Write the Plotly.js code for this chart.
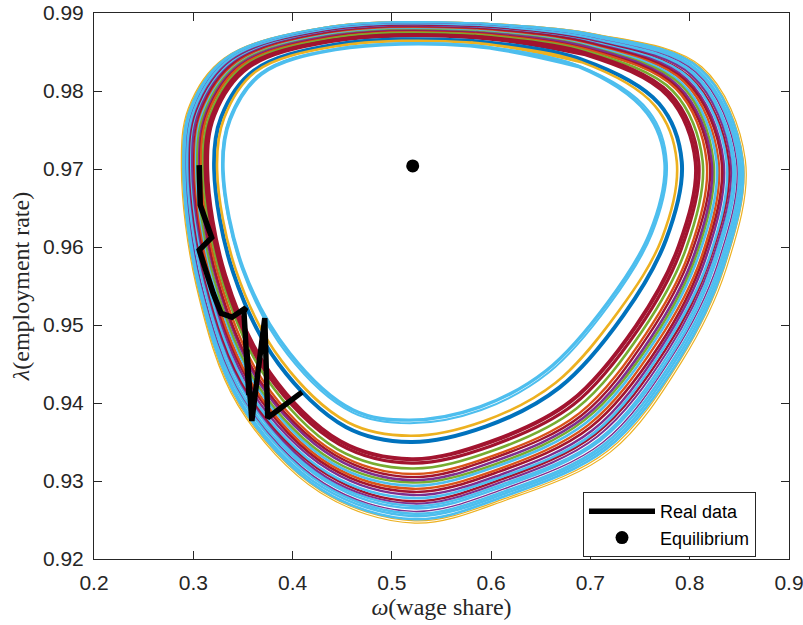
<!DOCTYPE html>
<html>
<head>
<meta charset="utf-8">
<script src="https://cdn.plot.ly/plotly-3.0.1.min.js"></script>
<style>
  html, body { margin: 0; padding: 0; background: #ffffff; }
  #chart { width: 803px; height: 625px; }
</style>
</head>
<body>
<div id="chart"></div>
<script>
// Simulated (wage share, employment rate) cycles, innermost first.
// Each orbit is sampled at 16 points going clockwise from the top.
const orbit01_w = [0.579, 0.689, 0.757, 0.775, 0.760, 0.717, 0.656, 0.589, 0.518, 0.461, 0.397, 0.350, 0.330, 0.337, 0.369, 0.443];
const orbit01_l = [0.9858, 0.9831, 0.9772, 0.9708, 0.9618, 0.9528, 0.9442, 0.9395, 0.9378, 0.9391, 0.9464, 0.9573, 0.9699, 0.9763, 0.9822, 0.9853];

const orbit02_w = [0.579, 0.689, 0.759, 0.777, 0.762, 0.719, 0.658, 0.590, 0.518, 0.460, 0.395, 0.349, 0.329, 0.336, 0.368, 0.443];
const orbit02_l = [0.9859, 0.9832, 0.9774, 0.9708, 0.9617, 0.9526, 0.9439, 0.9391, 0.9374, 0.9388, 0.9462, 0.9572, 0.9699, 0.9764, 0.9823, 0.9854];

const orbit03_w = [0.580, 0.691, 0.765, 0.787, 0.772, 0.728, 0.665, 0.593, 0.519, 0.456, 0.389, 0.343, 0.324, 0.331, 0.363, 0.442];
const orbit03_l = [0.9862, 0.9837, 0.9781, 0.9709, 0.9611, 0.9517, 0.9426, 0.9377, 0.9358, 0.9375, 0.9454, 0.9570, 0.9699, 0.9765, 0.9825, 0.9857];

const orbit04_w = [0.581, 0.692, 0.769, 0.792, 0.776, 0.733, 0.669, 0.595, 0.519, 0.454, 0.386, 0.340, 0.321, 0.328, 0.361, 0.441];
const orbit04_l = [0.9864, 0.9840, 0.9784, 0.9709, 0.9609, 0.9512, 0.9420, 0.9370, 0.9350, 0.9369, 0.9450, 0.9568, 0.9700, 0.9766, 0.9826, 0.9859];

const orbit05_w = [0.583, 0.695, 0.778, 0.806, 0.789, 0.746, 0.680, 0.599, 0.520, 0.448, 0.377, 0.332, 0.314, 0.321, 0.355, 0.439];
const orbit05_l = [0.9869, 0.9847, 0.9794, 0.9709, 0.9601, 0.9499, 0.9402, 0.9350, 0.9328, 0.9351, 0.9439, 0.9564, 0.9700, 0.9769, 0.9830, 0.9864];

const orbit06_w = [0.583, 0.695, 0.780, 0.809, 0.792, 0.749, 0.683, 0.600, 0.520, 0.447, 0.375, 0.330, 0.312, 0.319, 0.353, 0.439];
const orbit06_l = [0.9870, 0.9849, 0.9797, 0.9710, 0.9599, 0.9496, 0.9398, 0.9345, 0.9323, 0.9347, 0.9436, 0.9563, 0.9700, 0.9769, 0.9831, 0.9865];

const orbit07_w = [0.584, 0.696, 0.783, 0.813, 0.796, 0.752, 0.686, 0.602, 0.520, 0.445, 0.373, 0.328, 0.310, 0.317, 0.351, 0.438];
const orbit07_l = [0.9872, 0.9851, 0.9800, 0.9710, 0.9597, 0.9492, 0.9393, 0.9339, 0.9316, 0.9341, 0.9433, 0.9562, 0.9700, 0.9770, 0.9832, 0.9867];

const orbit08_w = [0.584, 0.697, 0.786, 0.817, 0.800, 0.756, 0.689, 0.603, 0.521, 0.444, 0.370, 0.326, 0.308, 0.315, 0.349, 0.438];
const orbit08_l = [0.9873, 0.9853, 0.9803, 0.9710, 0.9595, 0.9489, 0.9387, 0.9333, 0.9309, 0.9336, 0.9429, 0.9561, 0.9700, 0.9771, 0.9833, 0.9868];

const orbit09_w = [0.584, 0.697, 0.787, 0.820, 0.802, 0.758, 0.691, 0.604, 0.521, 0.443, 0.368, 0.324, 0.307, 0.314, 0.348, 0.438];
const orbit09_l = [0.9874, 0.9854, 0.9805, 0.9710, 0.9593, 0.9486, 0.9384, 0.9330, 0.9305, 0.9333, 0.9427, 0.9560, 0.9700, 0.9771, 0.9833, 0.9869];

const orbit10_w = [0.585, 0.698, 0.789, 0.822, 0.805, 0.761, 0.693, 0.605, 0.521, 0.442, 0.367, 0.323, 0.306, 0.313, 0.347, 0.437];
const orbit10_l = [0.9875, 0.9856, 0.9806, 0.9710, 0.9592, 0.9484, 0.9381, 0.9326, 0.9301, 0.9330, 0.9425, 0.9560, 0.9701, 0.9772, 0.9834, 0.9870];

const orbit11_w = [0.585, 0.698, 0.791, 0.824, 0.807, 0.763, 0.694, 0.605, 0.521, 0.441, 0.365, 0.321, 0.304, 0.311, 0.346, 0.437];
const orbit11_l = [0.9876, 0.9857, 0.9808, 0.9710, 0.9591, 0.9482, 0.9378, 0.9322, 0.9298, 0.9326, 0.9423, 0.9559, 0.9701, 0.9772, 0.9835, 0.9871];

const orbit12_w = [0.585, 0.699, 0.792, 0.827, 0.809, 0.765, 0.696, 0.606, 0.521, 0.440, 0.364, 0.320, 0.303, 0.310, 0.345, 0.437];
const orbit12_l = [0.9877, 0.9858, 0.9810, 0.9710, 0.9589, 0.9480, 0.9375, 0.9319, 0.9294, 0.9323, 0.9421, 0.9558, 0.9701, 0.9773, 0.9835, 0.9872];

const orbit13_w = [0.586, 0.699, 0.794, 0.829, 0.812, 0.767, 0.698, 0.607, 0.521, 0.439, 0.362, 0.318, 0.302, 0.309, 0.344, 0.436];
const orbit13_l = [0.9878, 0.9859, 0.9812, 0.9711, 0.9588, 0.9477, 0.9372, 0.9315, 0.9290, 0.9320, 0.9419, 0.9558, 0.9701, 0.9773, 0.9836, 0.9873];

const orbit14_w = [0.586, 0.700, 0.796, 0.832, 0.814, 0.770, 0.700, 0.608, 0.522, 0.438, 0.361, 0.317, 0.301, 0.308, 0.342, 0.436];
const orbit14_l = [0.9879, 0.9861, 0.9813, 0.9711, 0.9587, 0.9475, 0.9369, 0.9312, 0.9286, 0.9317, 0.9417, 0.9557, 0.9701, 0.9774, 0.9836, 0.9874];

const orbit15_w = [0.586, 0.700, 0.797, 0.834, 0.816, 0.772, 0.702, 0.609, 0.522, 0.437, 0.359, 0.316, 0.299, 0.306, 0.341, 0.436];
const orbit15_l = [0.9880, 0.9862, 0.9815, 0.9711, 0.9585, 0.9473, 0.9365, 0.9308, 0.9282, 0.9314, 0.9415, 0.9556, 0.9701, 0.9774, 0.9837, 0.9875];

const orbit16_w = [0.587, 0.700, 0.799, 0.837, 0.819, 0.774, 0.704, 0.610, 0.522, 0.436, 0.357, 0.314, 0.298, 0.305, 0.340, 0.435];
const orbit16_l = [0.9880, 0.9863, 0.9817, 0.9711, 0.9584, 0.9471, 0.9362, 0.9305, 0.9278, 0.9310, 0.9413, 0.9556, 0.9701, 0.9774, 0.9838, 0.9875];

const orbit17_w = [0.587, 0.701, 0.800, 0.839, 0.820, 0.776, 0.705, 0.610, 0.522, 0.435, 0.356, 0.313, 0.297, 0.304, 0.339, 0.435];
const orbit17_l = [0.9881, 0.9864, 0.9818, 0.9711, 0.9583, 0.9469, 0.9360, 0.9302, 0.9274, 0.9308, 0.9411, 0.9555, 0.9701, 0.9775, 0.9838, 0.9876];

const orbit18_w = [0.587, 0.701, 0.802, 0.841, 0.822, 0.778, 0.707, 0.611, 0.522, 0.434, 0.355, 0.312, 0.296, 0.303, 0.338, 0.435];
const orbit18_l = [0.9882, 0.9865, 0.9820, 0.9711, 0.9582, 0.9467, 0.9357, 0.9299, 0.9271, 0.9305, 0.9410, 0.9554, 0.9701, 0.9775, 0.9839, 0.9877];

const orbit19_w = [0.587, 0.702, 0.803, 0.843, 0.824, 0.780, 0.709, 0.612, 0.522, 0.433, 0.354, 0.311, 0.295, 0.302, 0.337, 0.435];
const orbit19_l = [0.9883, 0.9866, 0.9821, 0.9711, 0.9581, 0.9465, 0.9354, 0.9296, 0.9268, 0.9303, 0.9408, 0.9554, 0.9701, 0.9776, 0.9839, 0.9878];

const orbit20_w = [0.588, 0.702, 0.804, 0.845, 0.826, 0.782, 0.710, 0.612, 0.522, 0.433, 0.352, 0.310, 0.294, 0.301, 0.336, 0.434];
const orbit20_l = [0.9883, 0.9867, 0.9823, 0.9711, 0.9580, 0.9463, 0.9352, 0.9293, 0.9265, 0.9300, 0.9406, 0.9553, 0.9701, 0.9776, 0.9840, 0.9878];

const orbit21_w = [0.588, 0.702, 0.806, 0.847, 0.828, 0.783, 0.712, 0.613, 0.522, 0.432, 0.351, 0.308, 0.293, 0.300, 0.335, 0.434];
const orbit21_l = [0.9884, 0.9868, 0.9824, 0.9711, 0.9578, 0.9461, 0.9349, 0.9290, 0.9261, 0.9297, 0.9405, 0.9553, 0.9701, 0.9776, 0.9840, 0.9879];

const orbit22_w = [0.588, 0.703, 0.807, 0.849, 0.830, 0.785, 0.713, 0.614, 0.523, 0.431, 0.350, 0.307, 0.292, 0.299, 0.334, 0.434];
const orbit22_l = [0.9885, 0.9870, 0.9826, 0.9712, 0.9577, 0.9459, 0.9346, 0.9287, 0.9258, 0.9295, 0.9403, 0.9552, 0.9701, 0.9777, 0.9841, 0.9880];

const orbit23_w = [0.588, 0.703, 0.808, 0.851, 0.832, 0.787, 0.715, 0.614, 0.523, 0.430, 0.348, 0.306, 0.291, 0.298, 0.333, 0.434];
const orbit23_l = [0.9886, 0.9871, 0.9827, 0.9712, 0.9576, 0.9457, 0.9344, 0.9284, 0.9255, 0.9292, 0.9401, 0.9552, 0.9701, 0.9777, 0.9841, 0.9881];

const orbit24_w = [0.589, 0.703, 0.810, 0.853, 0.834, 0.789, 0.716, 0.615, 0.523, 0.429, 0.347, 0.305, 0.290, 0.297, 0.333, 0.433];
const orbit24_l = [0.9886, 0.9872, 0.9829, 0.9712, 0.9575, 0.9455, 0.9341, 0.9281, 0.9251, 0.9289, 0.9400, 0.9551, 0.9702, 0.9777, 0.9842, 0.9881];

const orbit25_w = [0.589, 0.704, 0.811, 0.854, 0.835, 0.790, 0.718, 0.615, 0.523, 0.429, 0.346, 0.304, 0.289, 0.296, 0.332, 0.433];
const orbit25_l = [0.9887, 0.9873, 0.9830, 0.9712, 0.9574, 0.9454, 0.9339, 0.9278, 0.9249, 0.9287, 0.9398, 0.9550, 0.9702, 0.9778, 0.9842, 0.9882];

const orbit26_w = [0.589, 0.705, 0.812, 0.856, 0.837, 0.792, 0.720, 0.616, 0.523, 0.428, 0.345, 0.303, 0.288, 0.295, 0.331, 0.433];
const orbit26_l = [0.9887, 0.9873, 0.9831, 0.9712, 0.9573, 0.9453, 0.9337, 0.9276, 0.9246, 0.9285, 0.9397, 0.9550, 0.9701, 0.9778, 0.9842, 0.9882];

// Observed path of wage share and employment rate
const realWage = [0.306, 0.307, 0.3185, 0.306, 0.320, 0.328, 0.339, 0.353, 0.351, 0.356, 0.354, 0.359, 0.372, 0.375, 0.4095];
const realEmpl = [0.9705, 0.9654, 0.9612, 0.9596, 0.9541, 0.9515, 0.9510, 0.9522, 0.9517, 0.9410, 0.9468, 0.9377, 0.9509, 0.9381, 0.9414];

// Steady state
const eqWage = [0.521];
const eqEmpl = [0.9704];

const tickX = [0.2, 0.3, 0.4, 0.5, 0.6, 0.7, 0.8, 0.9];
const tickY = [0.92, 0.93, 0.94, 0.95, 0.96, 0.97, 0.98, 0.99];

const C = {
  blue: '#0072BD', orange: '#D95319', yellow: '#EDB120', purple: '#7E2F8E',
  green: '#77AC30', cyan: '#4DBEEE', red: '#A2142F'
};

// outermost drawn first so the heavier inner cycles sit on top
const orbits = [
  [orbit26_w, orbit26_l, C.yellow, 1.2],
  [orbit25_w, orbit25_l, C.yellow, 1.2],
  [orbit24_w, orbit24_l, C.cyan, 2.6],
  [orbit23_w, orbit23_l, C.cyan, 2.6],
  [orbit22_w, orbit22_l, C.cyan, 2.6],
  [orbit21_w, orbit21_l, C.purple, 1.4],
  [orbit20_w, orbit20_l, C.cyan, 2.6],
  [orbit19_w, orbit19_l, C.cyan, 2.4],
  [orbit18_w, orbit18_l, C.purple, 2],
  [orbit17_w, orbit17_l, C.red, 2.4],
  [orbit16_w, orbit16_l, C.cyan, 2.6],
  [orbit15_w, orbit15_l, C.purple, 2.4],
  [orbit14_w, orbit14_l, C.red, 2.6],
  [orbit13_w, orbit13_l, C.orange, 2.4],
  [orbit12_w, orbit12_l, C.cyan, 2.6],
  [orbit11_w, orbit11_l, C.green, 2.4],
  [orbit10_w, orbit10_l, C.purple, 2.6],
  [orbit09_w, orbit09_l, C.red, 2.4],
  [orbit08_w, orbit08_l, C.orange, 2.4],
  [orbit07_w, orbit07_l, C.green, 2.6],
  [orbit06_w, orbit06_l, C.red, 3.2],
  [orbit05_w, orbit05_l, C.red, 4],
  [orbit04_w, orbit04_l, C.blue, 4],
  [orbit03_w, orbit03_l, C.yellow, 2.6],
  [orbit02_w, orbit02_l, C.cyan, 2],
  [orbit01_w, orbit01_l, C.cyan, 3.4]
];

const traces = orbits.map(([w, l, color, width]) => ({
  x: w.concat([w[0], w[1]]),
  y: l.concat([l[0], l[1]]),
  type: 'scatter',
  mode: 'lines',
  line: { color: color, width: width, shape: 'spline', smoothing: 1 },
  hoverinfo: 'skip',
  showlegend: false
}));

traces.push({
  x: realWage, y: realEmpl, type: 'scatter', mode: 'lines', name: 'Real data',
  line: { color: '#000000', width: 5.5 }
});
traces.push({
  x: eqWage, y: eqEmpl, type: 'scatter', mode: 'markers', name: 'Equilibrium',
  marker: { color: '#000000', size: 13, symbol: 'circle' }
});

const axisCommon = {
  showgrid: false, zeroline: false,
  showline: true, linecolor: '#262626', linewidth: 1, mirror: 'ticks',
  ticks: 'inside', ticklen: 8, tickwidth: 1, tickcolor: '#262626',
  tickfont: { family: 'Liberation Sans, Arial, sans-serif', size: 21, color: '#262626' },
  ticklabelstandoff: 5,
  ticklabeloverflow: 'allow'
};

const layout = {
  width: 803, height: 625,
  margin: { l: 94, r: 14, t: 13, b: 66 },
  paper_bgcolor: '#ffffff', plot_bgcolor: '#ffffff',
  showlegend: true,
  xaxis: Object.assign({}, axisCommon, {
    range: [0.2, 0.9], tickvals: tickX, ticktext: tickX.map(v => v.toFixed(1)),
    title: { text: '<i>ω</i>(wage share)', font: { family: 'Liberation Serif, serif', size: 24, color: '#262626' }, standoff: 4 }
  }),
  yaxis: Object.assign({}, axisCommon, {
    range: [0.92, 0.99], tickvals: tickY, ticktext: tickY.map(v => v.toFixed(2)),
    title: { text: '<i>λ</i>(employment rate)', font: { family: 'Liberation Serif, serif', size: 24, color: '#262626' }, standoff: 6 }
  }),
  legend: {
    x: 0.7036, y: 0.1227, xanchor: 'left', yanchor: 'top',
    bgcolor: '#ffffff', bordercolor: '#262626', borderwidth: 1,
    font: { family: 'Liberation Sans, Arial, sans-serif', size: 18, color: '#000000' },
    itemwidth: 66, tracegroupgap: 0
  }
};

Plotly.newPlot('chart', traces, layout, { displayModeBar: false, staticPlot: true });
</script>
</body>
</html>
